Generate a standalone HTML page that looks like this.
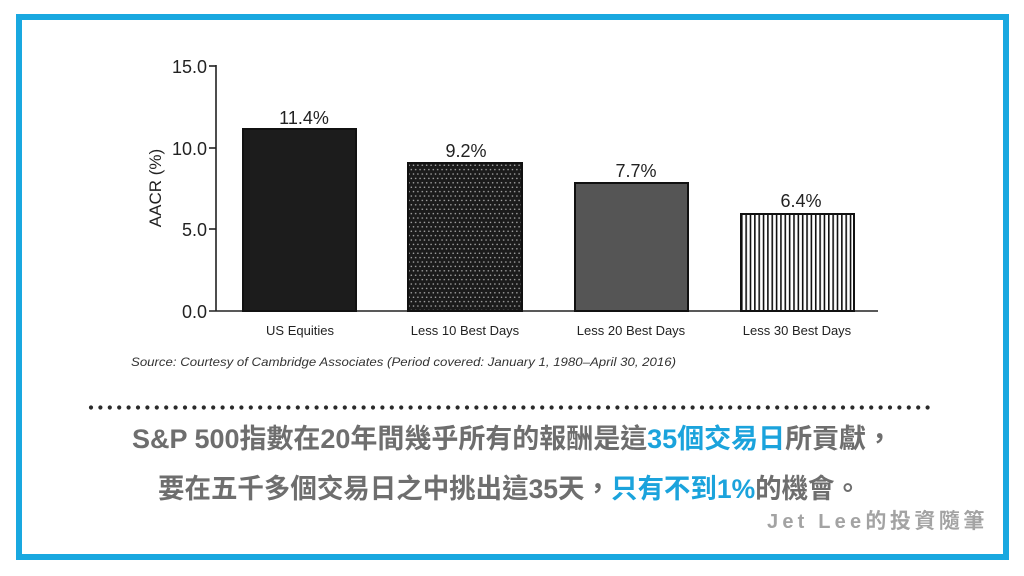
<!DOCTYPE html>
<html>
<head>
<meta charset="utf-8">
<style>
  html,body{margin:0;padding:0;background:#fff;}
  svg{display:block;}
</style>
</head>
<body>
<svg width="1024" height="576" viewBox="0 0 1024 576" xmlns="http://www.w3.org/2000/svg">
  <defs>
    <pattern id="dots" x="408" y="163" width="4.4" height="8.8" patternUnits="userSpaceOnUse">
      <rect width="4.4" height="8.8" fill="#1b1b1b"/>
      <circle cx="1.1" cy="2.2" r="0.75" fill="#b5b5b5"/>
      <circle cx="3.3" cy="6.6" r="0.75" fill="#b5b5b5"/>
    </pattern>
    <pattern id="vlines" x="741" y="0" width="4.35" height="10" patternUnits="userSpaceOnUse">
      <rect width="4.35" height="10" fill="#fff"/>
      <rect x="0" width="1.6" height="10" fill="#111"/>
    </pattern>
  </defs>

  <rect width="1024" height="576" fill="#fff"/>
  <!-- blue frame -->
  <rect x="19" y="17" width="987" height="540" fill="none" stroke="#19a8e0" stroke-width="6"/>

  <!-- axes -->
  <g stroke="#222" stroke-width="1.6" fill="none">
    <line x1="216" y1="65" x2="216" y2="311"/>
    <line x1="209" y1="311" x2="878" y2="311"/>
    <line x1="209" y1="66" x2="216" y2="66"/>
    <line x1="209" y1="148" x2="216" y2="148"/>
    <line x1="209" y1="229" x2="216" y2="229"/>
  </g>
  <g font-family="Liberation Sans, sans-serif" font-size="18" fill="#222" text-anchor="end">
    <text x="207" y="73">15.0</text>
    <text x="207" y="155">10.0</text>
    <text x="207" y="236">5.0</text>
    <text x="207" y="318">0.0</text>
  </g>
  <text transform="translate(161,188) rotate(-90)" font-family="Liberation Sans, sans-serif" font-size="17" fill="#222" text-anchor="middle">AACR (%)</text>

  <!-- bars -->
  <g stroke="#111" stroke-width="2">
    <rect x="243" y="129" width="113" height="182" fill="#1c1c1c"/>
    <rect x="408" y="163" width="114" height="148" fill="url(#dots)"/>
    <rect x="575" y="183" width="113" height="128" fill="#555555"/>
    <rect x="741" y="214" width="113" height="97" fill="url(#vlines)"/>
  </g>

  <!-- value labels -->
  <g font-family="Liberation Sans, sans-serif" font-size="18" fill="#222" text-anchor="middle">
    <text x="304" y="124">11.4%</text>
    <text x="466" y="157">9.2%</text>
    <text x="636" y="177">7.7%</text>
    <text x="801" y="207">6.4%</text>
  </g>

  <!-- category labels -->
  <g font-family="Liberation Sans, sans-serif" font-size="13" fill="#222" text-anchor="middle">
    <text x="300" y="335">US Equities</text>
    <text x="465" y="335">Less 10 Best Days</text>
    <text x="631" y="335">Less 20 Best Days</text>
    <text x="797" y="335">Less 30 Best Days</text>
  </g>

  <text x="131" y="366" font-family="Liberation Sans, sans-serif" font-size="12" font-style="italic" fill="#333" textLength="545" lengthAdjust="spacingAndGlyphs">Source: Courtesy of Cambridge Associates (Period covered: January 1, 1980–April 30, 2016)</text>

  <!-- dotted separator -->
  <line x1="91" y1="407.5" x2="930" y2="407.5" stroke="#2a2a2a" stroke-width="4.2" stroke-linecap="round" stroke-dasharray="0 9.4"/>

  <!-- Chinese text -->
  <g font-family="Liberation Sans, 'Noto Sans CJK TC', 'Noto Sans CJK SC', sans-serif" font-size="27" font-weight="bold" fill="#6e6e6e">
    <text x="132" y="448" textLength="761" lengthAdjust="spacing">S&amp;P 500指數在20年間幾乎所有的報酬是這<tspan fill="#1ba3dc">35個交易日</tspan>所貢獻，</text>
    <text x="158" y="498" textLength="703" lengthAdjust="spacingAndGlyphs">要在五千多個交易日之中挑出這35天，<tspan fill="#1ba3dc">只有不到1%</tspan>的機會。</text>
  </g>

  <!-- watermark -->
  <text x="767" y="528" font-family="Liberation Sans, 'Noto Sans CJK TC', sans-serif" font-size="20" font-weight="bold" fill="#a3a3a3"><tspan letter-spacing="4.2">Jet Lee</tspan><tspan font-size="21" letter-spacing="3.5">的投資隨筆</tspan></text>
</svg>
</body>
</html>
